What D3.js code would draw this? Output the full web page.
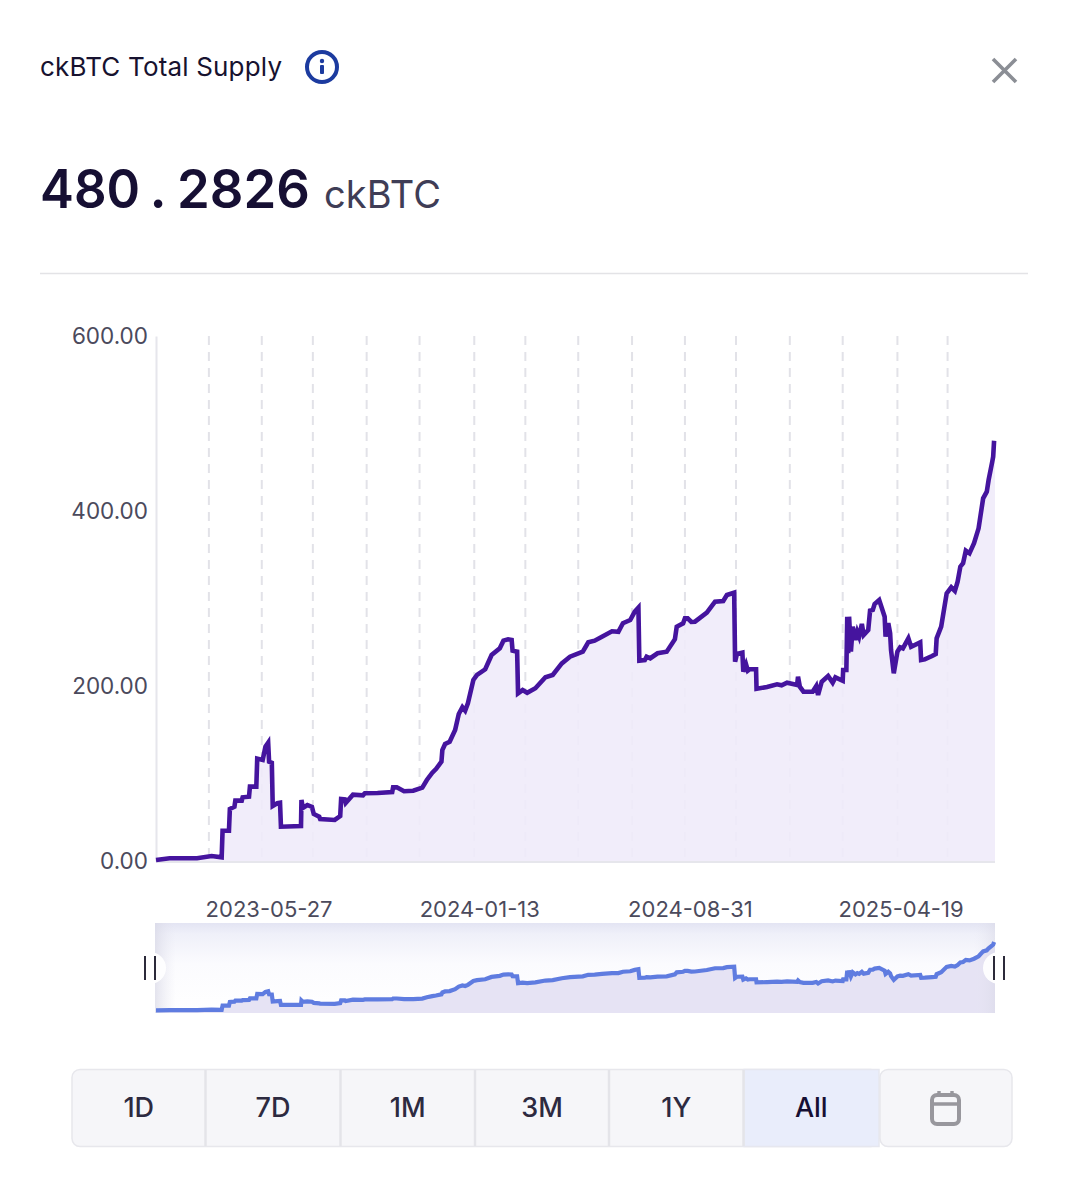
<!DOCTYPE html>
<html><head><meta charset="utf-8">
<style>html,body{margin:0;padding:0;background:#fff}svg{display:block}text{font-family:Inter,"Open Sans",sans-serif}</style>
<script src="https://cdnjs.cloudflare.com/ajax/libs/d3/7.8.5/d3.min.js"></script>
</head><body><svg id="c" width="1074" height="1200"></svg>
<script>
const days = [0,15,45,61,72,73,80,81,86,87,94,95,102,103,110,111,117,120,123,124,127,128,133,136,137,159,159.5,161,166,171,173,179,180,196,202,203,207,208,216,227,229,243,259,260,264,272,282,292,297,303,307,313,314,317,322,328,332,336,339,342,348,352,361,368,377,381,386,390,391,396,397,402,407,416,427,435,445,454,468,474,481,489,500,507,512,520,525,529,530,536,538,542,550,560,569,571,578,580,583,587,591,604,613,622,626,634,635,637,643,644,647,649,651,658,658.5,670,681,686,692,703,704,706,710,720,724,726,730,737,742,745,753,753.5,757,758,759,760,762,764,767,769,771,774,776,781,783,786,788,793,799,800,803,805,806,809,813,816,819,825,828,838,839,843,851,855,856,861,867,872,876,879,882,885,888,892,897,902,907,911,913,917,918,919];
const supply = [1.1,3.1,3.1,5.7,4.2,34.6,34.6,59.4,62,69,69,72.8,73.5,85,85,117,115.4,130.6,135.2,113.5,112.3,62.9,66,66.6,39.2,40,69.7,60.6,64,61.7,53.7,50.6,48,46.9,51.4,70.9,70.5,66.3,75.8,75.1,77.4,77.7,78.9,84.2,84.2,79.7,80.3,83.8,92.6,100.9,105.1,113.5,126.9,133.7,136.3,149.7,168,175.7,171.8,180.2,206.9,212.6,219.1,235.4,243.1,251.8,253.4,252.6,240.4,239.2,191.7,195.4,192.3,197.4,210,212.6,225.9,233.5,239.2,250,251.8,256.4,262.5,262,271.7,275.4,284.9,289.5,228.9,229.7,233.5,231.7,237.4,239.2,253.4,267.8,271.7,277.4,277.4,273.2,273.5,283.8,296.4,297.2,304,306.6,227.8,236.6,238.1,216.4,224.8,217.5,219.1,219.1,196.9,198.9,202,200.8,203.8,201.1,210.6,199.2,193.5,193.5,200,189.7,204.9,211.4,203.8,209.9,206,218.3,218.3,279.2,237.4,279.2,239.2,267.8,252.6,262,256.4,270.9,258.3,264,286.1,286.9,293.7,298.3,279.2,256.4,271.7,260.2,241.1,214.5,239.2,244.2,243,254.5,244.8,249.8,229.7,230.4,234.3,236.6,254.5,267.8,305.9,312.8,308.6,319.2,336.4,340.2,354.6,351.6,363.1,380.2,414.5,422.1,435.4,456.4,462.1,480.28];
const yTicks = [0,200,400,600];
const gridDays = [58,116,172,231,289,349,405,463,522,580,636,695,753,813,868];
const tickDays = [124,355,586,817];
const tickLabels = ["2023-05-27","2024-01-13","2024-08-31","2025-04-19"];
const ranges = ["1D","7D","1M","3M","1Y","All"];
const data = days.map((d,i)=>({d,v:supply[i]}));

const svg = d3.select("#c");
const defs = svg.append("defs");
const g1 = defs.append("linearGradient").attr("id","miniBg").attr("x1",0).attr("y1",0).attr("x2",0).attr("y2",1);
[[0,"#e3e4f3"],[.12,"#eff0f9"],[.45,"#fbfbfe"],[1,"#ffffff"]].forEach(s=>g1.append("stop").attr("offset",s[0]).attr("stop-color",s[1]));
const g2 = defs.append("linearGradient").attr("id","miniEdge");
[[0,"#d8d8e6",.7],[.025,"#e8e8f2",0],[.975,"#e8e8f2",0],[1,"#d8d8e6",.5]].forEach(s=>g2.append("stop").attr("offset",s[0]).attr("stop-color",s[1]).attr("stop-opacity",s[2]));

// header
svg.append("text").attr("x",40).attr("y",76).attr("font-size",26).attr("fill","#17122f").attr("textLength",242).text("ckBTC Total Supply");
const info = svg.append("g").attr("transform","translate(322,67)");
info.append("circle").attr("r",15).attr("fill","none").attr("stroke","#1c3b9f").attr("stroke-width",4);
info.append("circle").attr("cy",-6).attr("r",2.2).attr("fill","#1c3b9f");
info.append("rect").attr("x",-2).attr("y",-2).attr("width",4).attr("height",9).attr("rx",1).attr("fill","#1c3b9f");
svg.append("path").attr("d","M993 59L1016 82M1016 59L993 82").attr("stroke","#8b8e95").attr("stroke-width",3.6).attr("fill","none");
svg.append("text").attr("x",40).attr("y",208).attr("font-size",54).attr("font-weight",600).attr("fill","#160f33").attr("textLength",100).attr("lengthAdjust","spacingAndGlyphs").text("480");
svg.append("text").attr("x",158).attr("y",208).attr("text-anchor","middle").attr("font-size",54).attr("font-weight",600).attr("fill","#160f33").text(".");
svg.append("text").attr("x",177).attr("y",208).attr("font-size",54).attr("font-weight",600).attr("fill","#160f33").attr("textLength",133).attr("lengthAdjust","spacingAndGlyphs").text("2826");
svg.append("text").attr("x",324).attr("y",208).attr("font-size",38).attr("fill","#3f3d56").attr("textLength",117).text("ckBTC");
svg.append("line").attr("x1",40).attr("x2",1028).attr("y1",273.5).attr("y2",273.5).attr("stroke","#e3e3e6").attr("stroke-width",1.3);

// main chart
const x = d3.scaleLinear().domain([0,920]).range([156,995]);
const y = d3.scaleLinear().domain([0,600]).range([861,336]);
svg.append("g").selectAll("line").data(gridDays).join("line")
  .attr("x1",d=>x(d)).attr("x2",d=>x(d)).attr("y1",336).attr("y2",862)
  .attr("stroke","#e2e2e8").attr("stroke-width",2).attr("stroke-dasharray","9 7");
const tail = data.concat([{d:920,v:480.28}]);
svg.append("path").datum(tail).attr("fill","#efebf9").attr("fill-opacity",.9)
  .attr("d",d3.area().x(d=>x(d.d)).y0(y(0)).y1(d=>y(d.v)));
const ax = svg.append("g").attr("transform","translate(156,0)")
  .call(d3.axisLeft(y).tickValues(yTicks).tickFormat(d3.format(".2f")).tickSize(0).tickPadding(8));
ax.select(".domain").attr("stroke","#e6e6ec").attr("stroke-width",2);
ax.selectAll("text").attr("font-size",22.5).attr("fill","#4b4a5c").style("font-family","Inter,sans-serif");
svg.append("line").attr("x1",156).attr("x2",995).attr("y1",862).attr("y2",862).attr("stroke","#e6e6ec").attr("stroke-width",2);
svg.append("path").datum(data).attr("fill","none").attr("stroke","#45149e").attr("stroke-width",4.6).attr("stroke-linejoin","miter")
  .attr("d",d3.line().x(d=>x(d.d)).y(d=>y(d.v)));
svg.append("g").selectAll("text").data(tickDays).join("text")
  .attr("x",d=>x(d)).attr("y",917).attr("text-anchor","middle").attr("font-size",22).attr("fill","#4b4a5c")
  .text((d,i)=>tickLabels[i]);

// overview
const my = d3.scaleLinear().domain([0,480.28]).range([1010.5,942]);
svg.append("rect").attr("x",155).attr("y",923).attr("width",840).attr("height",90).attr("fill","url(#miniBg)");
svg.append("path").datum(tail).attr("fill","#e6e3f4")
  .attr("d",d3.area().x(d=>x(d.d)).y0(1013).y1(d=>my(d.v)));
svg.append("rect").attr("x",155).attr("y",923).attr("width",840).attr("height",90).attr("fill","url(#miniEdge)");
svg.append("path").datum(data).attr("fill","none").attr("stroke","#5f7ce0").attr("stroke-width",4.2)
  .attr("d",d3.line().x(d=>x(d.d)).y(d=>my(d.v)));
[[150],[999]].forEach(([cx])=>{
  const h = svg.append("g").attr("transform",`translate(${cx},968)`);
  h.append("circle").attr("r",16).attr("fill","#ffffff").attr("fill-opacity",.93);
  h.append("path").attr("d","M-5 -12V12M5 -12V12").attr("stroke","#2c2a3a").attr("stroke-width",2);
});

// range buttons
const edges = [72,205.5,340.5,475,609,743.5,879];
svg.append("rect").attr("x",72).attr("y",1069.5).attr("width",807).attr("height",77).attr("rx",8).attr("fill","#f6f6f9").attr("stroke","#e7e7ec").attr("stroke-width",1.5);
svg.append("path").attr("d","M744 1069.5H879V1146.5H744Z").attr("fill","#e9edfb").attr("stroke","#e6e7ef").attr("stroke-width",1.5);
svg.append("g").selectAll("line").data(edges.slice(1,-1)).join("line")
  .attr("x1",d=>d).attr("x2",d=>d).attr("y1",1070).attr("y2",1146).attr("stroke","#e4e4e9").attr("stroke-width",2.5);
svg.append("g").selectAll("text").data(ranges).join("text")
  .attr("x",(d,i)=>(edges[i]+edges[i+1])/2).attr("y",1117).attr("text-anchor","middle")
  .attr("font-size",27).attr("font-weight",500).attr("fill",(d,i)=>i===5?"#160f33":"#2d2a40").text(d=>d);
svg.append("rect").attr("x",880).attr("y",1069.5).attr("width",132).attr("height",77).attr("rx",8).attr("fill","#f6f6f9").attr("stroke","#e7e7ec").attr("stroke-width",1.5);
const cal = svg.append("g").attr("fill","none").attr("stroke","#98979d").attr("stroke-width",4);
cal.append("rect").attr("x",932).attr("y",1095).attr("width",27).attr("height",29).attr("rx",5);
cal.append("path").attr("d","M932 1104H959M939 1091V1097M952 1091V1097").attr("stroke-width",3.4);
</script></body></html>
